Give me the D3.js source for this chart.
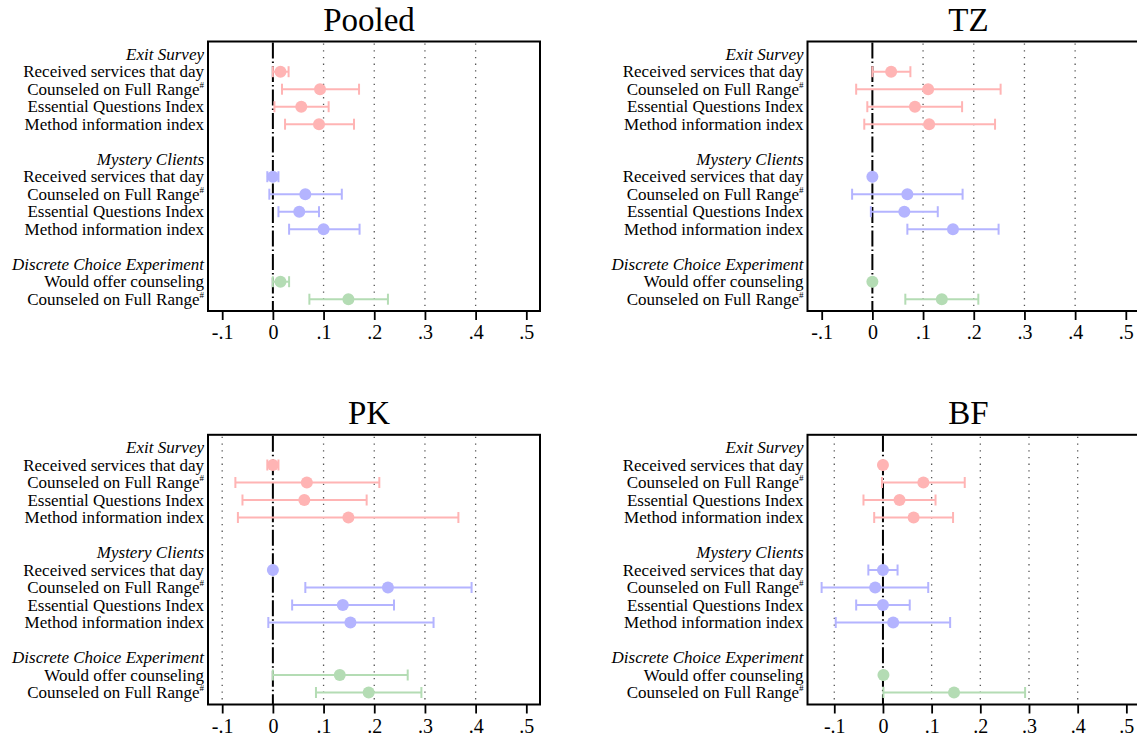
<!DOCTYPE html>
<html>
<head>
<meta charset="utf-8">
<script src="https://cdn.jsdelivr.net/npm/d3@7"></script>
<style>
  html, body { margin: 0; padding: 0; background: #fff; }
  svg { display: block; }
  text { font-family: "Liberation Serif", "Times New Roman", serif; fill: #000; }
</style>
</head>
<body>
<svg id="chart" width="1137" height="742"></svg>
<script>
// ---------------- DATA ----------------
const panelTitles = ["Pooled", "TZ", "PK", "BF"];
const groupNames = ["Exit Survey", "Mystery Clients", "Discrete Choice Experiment"];
const exitLabels = ["Received services that day", "Counseled on Full Range#", "Essential Questions Index", "Method information index"];
const mysteryLabels = ["Received services that day", "Counseled on Full Range#", "Essential Questions Index", "Method information index"];
const dceLabels = ["Would offer counseling", "Counseled on Full Range#"];
const tickValues = [-0.1, 0, 0.1, 0.2, 0.3, 0.4, 0.5];
const tickLabels = ["-.1", "0", ".1", ".2", ".3", ".4", ".5"];

// Pooled
const pooledExitEst = [0.015, 0.093, 0.056, 0.091];
const pooledExitLo  = [0.000, 0.018, 0.003, 0.024];
const pooledExitHi  = [0.031, 0.170, 0.110, 0.160];
const pooledMysEst  = [0.000, 0.064, 0.052, 0.100];
const pooledMysLo   = [-0.011, -0.007, 0.011, 0.032];
const pooledMysHi   = [0.011, 0.136, 0.091, 0.171];
const pooledDceEst  = [0.015, 0.149];
const pooledDceLo   = [0.000, 0.072];
const pooledDceHi   = [0.032, 0.227];
// TZ
const tzExitEst = [0.037, 0.110, 0.084, 0.112];
const tzExitLo  = [0.000, -0.032, -0.010, -0.016];
const tzExitHi  = [0.075, 0.253, 0.177, 0.242];
const tzMysEst  = [0.000, 0.069, 0.063, 0.159];
const tzMysLo   = [0.000, -0.040, -0.003, 0.069];
const tzMysHi   = [0.000, 0.178, 0.129, 0.249];
const tzDceEst  = [0.000, 0.137];
const tzDceLo   = [0.000, 0.065];
const tzDceHi   = [0.000, 0.209];
// PK
const pkExitEst = [0.000, 0.067, 0.062, 0.149];
const pkExitLo  = [-0.011, -0.074, -0.060, -0.069];
const pkExitHi  = [0.011, 0.210, 0.185, 0.366];
const pkMysEst  = [0.000, 0.227, 0.138, 0.153];
const pkMysLo   = [0.000, 0.064, 0.038, -0.009];
const pkMysHi   = [0.000, 0.392, 0.239, 0.317];
const pkDceEst  = [0.132, 0.189];
const pkDceLo   = [0.000, 0.085];
const pkDceHi   = [0.266, 0.293];
// BF
const bfExitEst = [0.000, 0.083, 0.034, 0.063];
const bfExitLo  = [0.000, -0.002, -0.040, -0.018];
const bfExitHi  = [0.000, 0.168, 0.108, 0.144];
const bfMysEst  = [0.000, -0.016, 0.000, 0.021];
const bfMysLo   = [-0.030, -0.126, -0.055, -0.097];
const bfMysHi   = [0.030, 0.093, 0.055, 0.138];
const bfDceEst  = [0.001, 0.146];
const bfDceLo   = [0.000, 0.001];
const bfDceHi   = [0.000, 0.292];

// x-axis domains per panel (axis extent at frame edges)
const xDomains = [[-0.128, 0.527], [-0.128, 0.527], [-0.128, 0.527], [-0.155, 0.527]];
// grid lines drawn per panel
const gridValues = [[0.1, 0.2, 0.3, 0.4], [0.1, 0.2, 0.3, 0.4], [-0.1, 0.1, 0.2, 0.3, 0.4], [-0.1, 0.1, 0.2, 0.3, 0.4]];

const groupColors = ["#ffb4b4", "#b4b4ff", "#b4dcb4"];

const panelData = [
  [[pooledExitEst, pooledExitLo, pooledExitHi], [pooledMysEst, pooledMysLo, pooledMysHi], [pooledDceEst, pooledDceLo, pooledDceHi]],
  [[tzExitEst, tzExitLo, tzExitHi], [tzMysEst, tzMysLo, tzMysHi], [tzDceEst, tzDceLo, tzDceHi]],
  [[pkExitEst, pkExitLo, pkExitHi], [pkMysEst, pkMysLo, pkMysHi], [pkDceEst, pkDceLo, pkDceHi]],
  [[bfExitEst, bfExitLo, bfExitHi], [bfMysEst, bfMysLo, bfMysHi], [bfDceEst, bfDceLo, bfDceHi]]
];
const groupLabels = [exitLabels, mysteryLabels, dceLabels];

// ---------------- LAYOUT ----------------
const frames = [
  {x0: 208, x1: 540, y0: 41.5, y1: 311},
  {x0: 807.5, x1: 1139.5, y0: 41.5, y1: 311},
  {x0: 208, x1: 540, y0: 434.8, y1: 704.5},
  {x0: 807.5, x1: 1139.5, y0: 434.8, y1: 704.5}
];

const svg = d3.select("#chart");
svg.append("rect").attr("width", 1137).attr("height", 742).attr("fill", "#fff");

function buildRows(pi) {
  const rows = [];
  let idx = 0;
  groupNames.forEach((g, gi) => {
    rows.push({type: "header", label: g, idx: idx});
    idx++;
    const [est, lo, hi] = panelData[pi][gi];
    groupLabels[gi].forEach((lab, k) => {
      rows.push({type: "item", label: lab, idx: idx, est: est[k], lo: lo[k], hi: hi[k], color: groupColors[gi]});
      idx++;
    });
    idx++; // blank row between groups
  });
  return rows;
}

panelTitles.forEach((title, pi) => {
  const f = frames[pi];
  const g = svg.append("g");
  const x = d3.scaleLinear().domain(xDomains[pi]).range([f.x0, f.x1]);
  const y = d3.scaleLinear().domain([0, 14]).range([f.y0 + 12.7, f.y0 + 12.7 + 17.5 * 14]);
  const rows = buildRows(pi);

  // title
  g.append("text")
    .attr("x", (f.x0 + f.x1) / 2 - 5)
    .attr("y", f.y0 - 10.5)
    .attr("text-anchor", "middle")
    .attr("font-size", 33)
    .text(title);

  // grid lines (dotted)
  g.selectAll(".grid").data(gridValues[pi]).enter().append("line")
    .attr("x1", d => x(d)).attr("x2", d => x(d))
    .attr("y1", f.y0 + 2).attr("y2", f.y1 - 1)
    .attr("stroke", "#555").attr("stroke-width", 1.3)
    .attr("stroke-dasharray", "1.3,5.4");

  // zero reference line (dashed)
  g.append("line")
    .attr("x1", x(0)).attr("x2", x(0))
    .attr("y1", f.y0 + 1).attr("y2", f.y1)
    .attr("stroke", "#000").attr("stroke-width", 2)
    .attr("stroke-dasharray", "16,3,1.5,3");

  // CIs
  const items = rows.filter(r => r.type === "item");
  const ci = g.selectAll(".ci").data(items).enter().append("g");
  ci.append("line")
    .attr("x1", d => x(d.lo)).attr("x2", d => x(d.hi))
    .attr("y1", d => y(d.idx)).attr("y2", d => y(d.idx))
    .attr("stroke", d => d.color).attr("stroke-width", 2);
  ci.append("line")
    .attr("x1", d => x(d.lo)).attr("x2", d => x(d.lo))
    .attr("y1", d => y(d.idx) - 5.5).attr("y2", d => y(d.idx) + 5.5)
    .attr("stroke", d => d.color).attr("stroke-width", 2);
  ci.append("line")
    .attr("x1", d => x(d.hi)).attr("x2", d => x(d.hi))
    .attr("y1", d => y(d.idx) - 5.5).attr("y2", d => y(d.idx) + 5.5)
    .attr("stroke", d => d.color).attr("stroke-width", 2);

  // points
  g.selectAll(".pt").data(items).enter().append("circle")
    .attr("cx", d => x(d.est)).attr("cy", d => y(d.idx)).attr("r", 6)
    .attr("fill", d => d.color);

  // frame
  g.append("rect")
    .attr("x", f.x0).attr("y", f.y0)
    .attr("width", f.x1 - f.x0).attr("height", f.y1 - f.y0)
    .attr("fill", "none").attr("stroke", "#000").attr("stroke-width", 2);

  // x axis
  const axis = d3.axisBottom(x).tickValues(tickValues)
    .tickFormat((d, i) => tickLabels[i]).tickSize(9).tickPadding(5);
  const ax = g.append("g").attr("transform", `translate(0,${f.y1})`).call(axis);
  ax.select(".domain").remove();
  ax.selectAll(".tick line").attr("stroke", "#000").attr("stroke-width", 1.8);
  ax.selectAll(".tick text")
    .attr("font-family", "'Liberation Serif', 'Times New Roman', serif")
    .attr("font-size", 20).attr("fill", "#000");

  // row labels
  rows.forEach(r => {
    const t = g.append("text")
      .attr("x", f.x0 - 4)
      .attr("y", y(r.idx))
      .attr("dy", "0.33em")
      .attr("text-anchor", "end")
      .attr("font-size", 17);
    if (r.type === "header") {
      t.attr("font-style", "italic").text(r.label);
    } else if (r.label.endsWith("#")) {
      t.append("tspan").text(r.label.slice(0, -1));
      t.append("tspan").attr("font-size", 9).attr("dy", "-0.75em").text("#");
    } else {
      t.text(r.label);
    }
  });
});
</script>
</body>
</html>
